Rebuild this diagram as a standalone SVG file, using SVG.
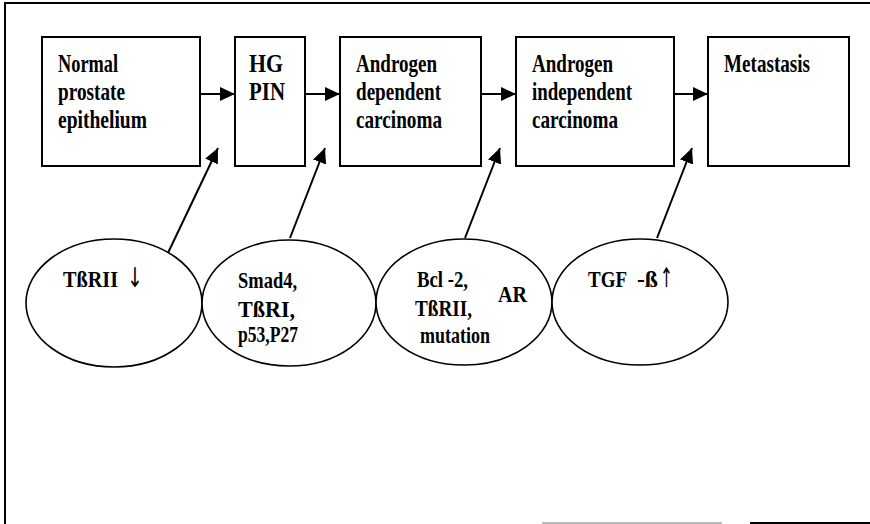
<svg xmlns="http://www.w3.org/2000/svg" width="870" height="524" viewBox="0 0 870 524">
<style>
.box{fill:#fff;stroke:#000;stroke-width:2}
.ell{fill:#fff;stroke:#000;stroke-width:1.6}
.t{font-family:"Liberation Serif","Times New Roman",serif;font-weight:bold;font-size:25px;fill:#000}
.e{font-family:"Liberation Serif","Times New Roman",serif;font-weight:bold;font-size:23px;fill:#000}
.sym{font-family:"DejaVu Sans",sans-serif;font-size:27px;fill:#000}
.c{stroke:#000;stroke-width:2;fill:none}
</style>
<defs>
<marker id="ah" markerUnits="userSpaceOnUse" markerWidth="17" markerHeight="15" refX="15" refY="7" orient="auto">
<path d="M0,0 L15,7 L0,14 Z" fill="#000"/>
</marker>
</defs>
<rect width="870" height="524" fill="#fff"/>
<g id="frame">
<path d="M5,524 V3 H870" fill="none" stroke="#000" stroke-width="2"/>
<line x1="542" y1="523" x2="722" y2="523" stroke="#bbb" stroke-width="2"/>
<line x1="750" y1="523" x2="870" y2="523" stroke="#000" stroke-width="2"/>
</g>
<g id="connectors">
<line class="c" x1="200" y1="94" x2="235" y2="94" marker-end="url(#ah)"/>
<line class="c" x1="305" y1="94" x2="340" y2="94" marker-end="url(#ah)"/>
<line class="c" x1="481" y1="94" x2="516" y2="94" marker-end="url(#ah)"/>
<line class="c" x1="674" y1="94" x2="708" y2="94" marker-end="url(#ah)"/>
<line class="c" x1="167" y1="255" x2="218" y2="148" marker-end="url(#ah)"/>
<line class="c" x1="290" y1="238" x2="325" y2="148" marker-end="url(#ah)"/>
<line class="c" x1="465" y1="238" x2="500" y2="148" marker-end="url(#ah)"/>
<line class="c" x1="657" y1="238" x2="692" y2="148" marker-end="url(#ah)"/>
</g>
<g id="normal">
<rect class="box" x="42" y="37" width="158" height="129"/>
<text class="t" x="58" y="72" textLength="60" lengthAdjust="spacingAndGlyphs">Normal</text>
<text class="t" x="58" y="100" textLength="67" lengthAdjust="spacingAndGlyphs">prostate</text>
<text class="t" x="58" y="128" textLength="89" lengthAdjust="spacingAndGlyphs">epithelium</text>
</g>
<g id="hgpin">
<rect class="box" x="235" y="37" width="70" height="129"/>
<text class="t" x="249" y="72" textLength="34" lengthAdjust="spacingAndGlyphs">HG</text>
<text class="t" x="249" y="100" textLength="36" lengthAdjust="spacingAndGlyphs">PIN</text>
</g>
<g id="adc">
<rect class="box" x="340" y="37" width="141" height="129"/>
<text class="t" x="356" y="72" textLength="81" lengthAdjust="spacingAndGlyphs">Androgen</text>
<text class="t" x="356" y="100" textLength="85" lengthAdjust="spacingAndGlyphs">dependent</text>
<text class="t" x="356" y="128" textLength="86" lengthAdjust="spacingAndGlyphs">carcinoma</text>
</g>
<g id="aic">
<rect class="box" x="516" y="37" width="158" height="129"/>
<text class="t" x="532" y="72" textLength="81" lengthAdjust="spacingAndGlyphs">Androgen</text>
<text class="t" x="532" y="100" textLength="100" lengthAdjust="spacingAndGlyphs">independent</text>
<text class="t" x="532" y="128" textLength="86" lengthAdjust="spacingAndGlyphs">carcinoma</text>
</g>
<g id="metastasis">
<rect class="box" x="708" y="37" width="141" height="129"/>
<text class="t" x="724" y="72" textLength="86" lengthAdjust="spacingAndGlyphs">Metastasis</text>
</g>
<g id="e1">
<ellipse class="ell" cx="114" cy="303" rx="88" ry="64"/>
<text class="e" x="63" y="287" textLength="55" lengthAdjust="spacingAndGlyphs">TßRII</text>
<text class="sym" x="127" y="287" textLength="16" lengthAdjust="spacingAndGlyphs">↓</text>
</g>
<g id="e2">
<ellipse class="ell" cx="289" cy="303" rx="87" ry="63"/>
<text class="e" x="238" y="288" textLength="59" lengthAdjust="spacingAndGlyphs">Smad4,</text>
<text class="e" x="238" y="317" textLength="57" lengthAdjust="spacingAndGlyphs">TßRI,</text>
<text class="e" x="238" y="342" textLength="60" lengthAdjust="spacingAndGlyphs">p53,P27</text>
</g>
<g id="e3">
<ellipse class="ell" cx="464" cy="302" rx="88" ry="63"/>
<text class="e" x="417" y="287" textLength="51" lengthAdjust="spacingAndGlyphs">Bcl -2,</text>
<text class="e" x="415" y="316" textLength="57" lengthAdjust="spacingAndGlyphs">TßRII,</text>
<text class="e" x="420" y="343" textLength="70" lengthAdjust="spacingAndGlyphs">mutation</text>
<text class="e" x="498" y="302" textLength="29" lengthAdjust="spacingAndGlyphs">AR</text>
</g>
<g id="e4">
<ellipse class="ell" cx="640" cy="302" rx="88" ry="63"/>
<text class="e" x="588" y="287" textLength="39" lengthAdjust="spacingAndGlyphs">TGF</text>
<text class="e" x="637" y="287" textLength="21" lengthAdjust="spacingAndGlyphs">-ß</text>
<text class="sym" x="660" y="287" textLength="13" lengthAdjust="spacingAndGlyphs">↑</text>
</g>
</svg>
